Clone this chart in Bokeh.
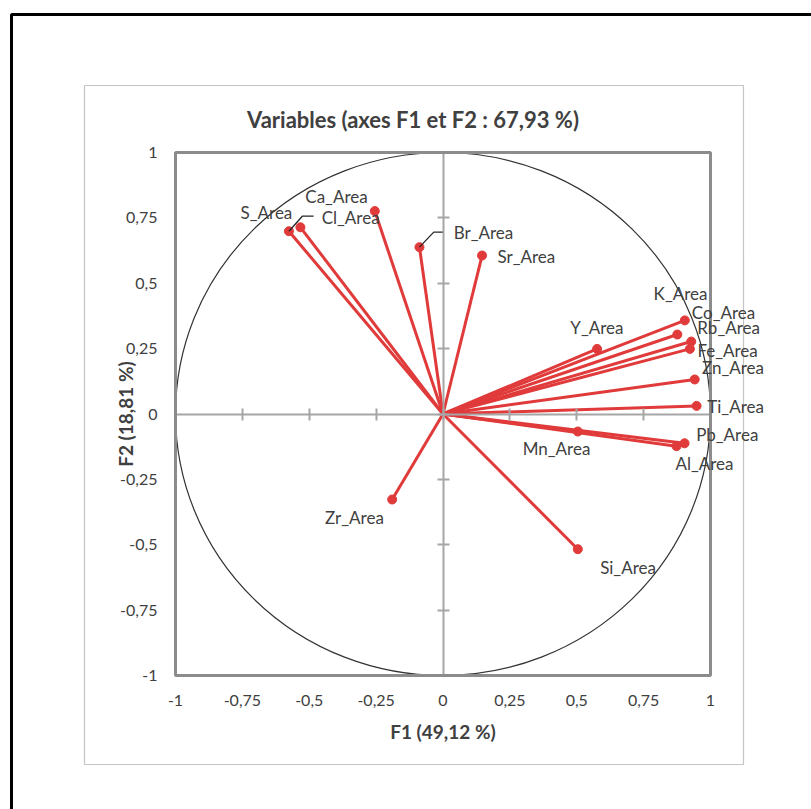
import numpy as np
from bokeh.plotting import figure
from bokeh.models import (Range1d, LinearAxis, FixedTicker, ColumnDataSource,
                          Label, BoxAnnotation)
from bokeh.embed import file_html
from bokeh.resources import INLINE

# ---------------- data ----------------
variables = ["S_Area", "Cl_Area", "Ca_Area", "Br_Area", "Sr_Area", "Y_Area",
             "K_Area", "Co_Area", "Rb_Area", "Fe_Area", "Zn_Area", "Ti_Area",
             "Pb_Area", "Al_Area", "Mn_Area", "Zr_Area", "Si_Area"]
f1 = [-0.533, -0.576, -0.255, -0.088, 0.146, 0.576,
      0.904, 0.928, 0.876, 0.923, 0.941, 0.948,
      0.903, 0.873, 0.504, -0.190, 0.504]
f2 = [0.714, 0.699, 0.776, 0.638, 0.606, 0.249,
      0.358, 0.277, 0.304, 0.249, 0.132, 0.031,
      -0.112, -0.123, -0.067, -0.327, -0.517]

tick_values = [-1, -0.75, -0.5, -0.25, 0, 0.25, 0.5, 0.75, 1]
tick_labels = ["-1", "-0,75", "-0,5", "-0,25", "0", "0,25", "0,5", "0,75", "1"]

title_text = "Variables (axes F1 et F2 : 67,93 %)"
xlabel = "F1 (49,12 %)"
ylabel = "F2 (18,81 %)"

# label placement (screen pixel offsets from each point; up is positive)
label_dx = [-34, 61.7, -38.3, 64, 44.3, -0.2, -4.3, 32.3, 51.3, 37.7, 38.2, 39,
            42.7, 28, -21.3, -37.7, 50.2]
label_dy = [14.7, 14.2, 14.7, 14.2, -1, 21.8, 26.5, 29.5, 7.3, -1.7, 11.7, -0.7,
            8.4, -17, -17.3, -18.3, -18]

# leader lines (for Cl_Area and Br_Area), pixel offsets
leader_vars = ["Cl_Area", "Br_Area"]
leader_px = [[0, 13.4, 24.7], [0, 14.3, 24.3]]
leader_py = [[0, 15, 15], [0, 15, 15]]

# ---------------- layout ----------------
W, H = 811, 809
PL, PR, PT, PB = 175, 710, 152, 675      # plot-area box in canvas pixels
sx = (PR - PL) / 2.0
sy = (PB - PT) / 2.0

def px2x(px):
    return -1 + (px - PL) / sx

def py2y(py):
    return 1 - (py - PT) / sy

FONT = "Lato"
RED = "#e03a3a"
TXT = "#404040"
AXC = "#8c8c8c"

p = figure(width=W, height=H,
           x_range=Range1d(px2x(0), px2x(W)), y_range=Range1d(py2y(H), py2y(0)),
           output_backend="svg", toolbar_location=None,
           x_axis_location=None, y_axis_location=None,
           min_border=0, outline_line_color=None,
           background_fill_color="white", border_fill_color="white")
p.grid.visible = False

# outer black frame and chart-area border
p.add_layout(BoxAnnotation(left=px2x(11), right=px2x(1400), top=py2y(14), bottom=py2y(1400),
                           fill_alpha=0, line_color="black", line_alpha=1, line_width=3))
p.add_layout(BoxAnnotation(left=px2x(84), right=px2x(743), top=py2y(85), bottom=py2y(764),
                           fill_alpha=0, line_color="#c4c4c4", line_alpha=1, line_width=1.2))

# title
p.add_layout(Label(x=px2x(412.5), y=py2y(119), text=title_text,
                   text_align="center", text_baseline="middle",
                   text_font=FONT, text_font_size="22px", text_font_style="bold",
                   text_color=TXT))

# main axes along plot-area edges
overrides = {v: l for v, l in zip(tick_values, tick_labels)}
xa = LinearAxis(fixed_location=-1, bounds=(-1, 1), ticker=FixedTicker(ticks=tick_values))
ya = LinearAxis(fixed_location=-1, bounds=(-1, 1), ticker=FixedTicker(ticks=tick_values))
for ax in (xa, ya):
    ax.major_label_overrides = overrides
    ax.axis_line_alpha = 0
    ax.major_tick_line_alpha = 0
    ax.major_tick_out = 0
    ax.major_tick_in = 0
    ax.minor_tick_line_alpha = 0
    ax.major_label_text_font = FONT
    ax.major_label_text_font_size = "16px"
    ax.major_label_text_color = TXT
    ax.axis_label_text_font = FONT
    ax.axis_label_text_font_size = "19px"
    ax.axis_label_text_font_style = "bold"
    ax.axis_label_text_color = TXT
xa.axis_label = xlabel
ya.axis_label = ylabel
xa.major_label_standoff = 19
xa.axis_label_standoff = 11
ya.major_label_standoff = 18
ya.axis_label_standoff = -20
ya.major_label_orientation = "horizontal"
p.add_layout(xa, "below")
p.add_layout(ya, "left")

# plot-area frame
p.add_layout(BoxAnnotation(left=-1, right=1, top=1, bottom=-1,
                           fill_alpha=0, line_color=AXC, line_alpha=1, line_width=3))

# centre cross axes
for loc in ("below", "left"):
    ax = LinearAxis(fixed_location=0, bounds=(-1, 1), ticker=FixedTicker(ticks=tick_values))
    ax.axis_line_color = "#a6a6a6"
    ax.axis_line_width = 2
    ax.major_tick_line_color = "#a6a6a6"
    ax.major_tick_line_width = 2
    ax.major_tick_in = 6
    ax.major_tick_out = 6
    ax.minor_tick_line_alpha = 0
    ax.major_label_text_font_size = "0px"
    ax.major_label_text_alpha = 0
    p.add_layout(ax, loc)

# correlation circle
p.ellipse(x=0, y=0, width=2, height=2, fill_color=None, line_color="#333333", line_width=1.2)

# vectors
src = ColumnDataSource(dict(x0=[0] * len(f1), y0=[0] * len(f1), x=f1, y=f2))
p.segment(x0="x0", y0="y0", x1="x", y1="y", source=src, line_color=RED, line_width=3)
p.scatter(x="x", y="y", source=src, size=9, fill_color=RED, line_color=RED)

# leader lines
lx, ly = [], []
for name, ox, oy in zip(leader_vars, leader_px, leader_py):
    i = variables.index(name)
    lx.append([f1[i] + o / sx for o in ox])
    ly.append([f2[i] + o / sy for o in oy])
p.multi_line(xs=lx, ys=ly, line_color="#262626", line_width=1.3)

for name, x, y, dx, dy in zip(variables, f1, f2, label_dx, label_dy):
    p.add_layout(Label(x=x, y=y, text=name, x_offset=dx, y_offset=dy,
                       text_align="center", text_baseline="middle",
                       text_font=FONT, text_font_size="17px", text_color=TXT))

open("out.html", "w").write(file_html(p, INLINE))
